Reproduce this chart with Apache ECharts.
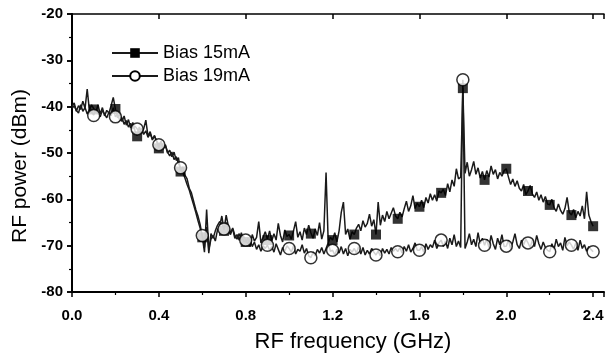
<!DOCTYPE html>
<html>
<head>
<meta charset="utf-8">
<script src="https://cdn.jsdelivr.net/npm/echarts@6/dist/echarts.min.js"></script>
<style>
  html, body { margin: 0; padding: 0; background: #fff; }
  #chart { width: 614px; height: 358px; }
</style>
</head>
<body>
<div id="chart"></div>
<script>
// spectrum traces, one sample every 0.01 GHz from 0.00 to 2.40 (dBm)
var traceStep = 0.01;
var trace15 = [
  -40.0, -39.2, -41.0, -39.8, -40.6, -38.8, -40.4, -36.2, -40.8, -39.6,
  -40.4, -41.2, -39.6, -41.6, -40.2, -42.0, -40.8, -41.4, -39.8, -38.0,
  -40.6, -42.4, -41.6, -43.2, -42.0, -44.0, -42.8, -44.6, -43.4, -45.2,
  -46.2, -44.4, -45.8, -44.8, -42.9, -46.4, -45.4, -47.2, -46.2, -47.6,
  -48.8, -47.4, -49.2, -48.2, -50.0, -49.4, -50.8, -49.8, -51.6, -51.0,
  -53.8, -53.0, -54.8, -55.6, -57.6, -58.6, -60.4, -62.2, -63.6, -65.4,
  -68.0, -71.4, -62.2, -70.8, -68.6, -67.8, -69.0, -66.6, -65.8, -63.6,
  -66.6, -63.4, -65.8, -67.2, -66.4, -68.4, -67.6, -68.8, -67.2, -69.0,
  -69.2, -68.4, -70.2, -67.6, -69.0, -68.2, -64.8, -69.4, -68.2, -67.0,
  -68.6, -66.8, -69.0, -67.4, -68.8, -65.2, -67.8, -69.2, -66.6, -68.0,
  -67.6, -68.6, -66.8, -64.8, -68.2, -67.0, -68.8, -66.2, -67.6, -65.6,
  -67.2, -68.4, -66.4, -67.8, -65.0, -68.6, -66.8, -54.2, -69.4, -68.2,
  -68.8, -67.2, -69.2, -66.8, -62.8, -60.6, -67.6, -66.4, -68.6, -67.0,
  -67.6, -66.2, -65.4, -66.8, -64.6, -66.0, -65.2, -63.2, -65.8, -64.4,
  -67.6, -60.6, -65.6, -63.4, -64.8, -62.6, -64.2, -63.0, -61.8, -63.6,
  -64.2, -62.8, -63.8, -62.0, -60.4, -62.6, -61.4, -59.2, -62.0, -60.8,
  -61.6, -60.2, -61.8, -59.6, -60.8, -58.8, -60.2, -59.0, -60.4, -58.2,
  -58.6, -57.8, -59.2, -56.6, -58.4, -55.8, -57.2, -53.4, -55.6, -55.2,
  -36.0, -54.4, -52.0, -55.0, -53.6, -51.8, -54.6, -53.2, -55.4, -54.0,
  -55.8, -53.8, -55.2, -52.8, -54.6, -53.6, -55.6, -54.2, -55.0, -53.8,
  -53.4, -55.2, -56.8, -55.6, -57.2, -56.0, -57.6, -58.2, -56.8, -59.0,
  -58.2, -57.0, -58.8, -59.6, -58.4, -60.2, -59.0, -60.6, -59.4, -61.0,
  -61.2, -60.0, -61.8, -62.6, -61.0, -62.4, -63.2, -62.0, -59.6, -62.8,
  -63.4, -62.2, -64.0, -62.6, -63.6, -61.4, -64.2, -58.4, -63.4, -64.8,
  -65.8
];
var trace19 = [
  -40.4, -39.8, -40.8, -41.4, -39.6, -41.0, -40.2, -41.6, -40.6, -41.2,
  -41.8, -40.6, -41.4, -42.2, -40.8, -41.6, -42.4, -41.2, -42.0, -40.2,
  -42.2, -41.6, -43.0, -42.4, -43.8, -43.0, -44.4, -43.6, -44.8, -44.2,
  -44.8, -45.6, -44.6, -46.0, -45.2, -46.6, -45.8, -47.0, -46.4, -47.4,
  -48.2, -47.6, -49.0, -48.4, -49.8, -50.6, -49.8, -51.4, -50.8, -52.2,
  -53.2, -54.2, -55.4, -56.8, -58.0, -59.6, -61.2, -62.8, -64.6, -66.2,
  -67.8, -70.4, -66.0, -71.6, -67.4, -68.4, -66.8, -65.6, -64.8, -65.2,
  -66.4, -65.0, -66.8, -67.6, -66.2, -67.8, -68.6, -67.4, -68.8, -68.0,
  -68.8, -69.6, -68.6, -70.2, -69.2, -70.8, -69.8, -71.2, -70.0, -70.6,
  -69.9, -71.0, -70.2, -71.4, -69.6, -70.8, -72.0, -70.4, -71.2, -70.0,
  -70.6, -71.4, -70.0, -71.8, -70.8, -71.2, -69.8, -71.6, -70.6, -72.2,
  -72.6, -71.4, -72.2, -70.8, -71.6, -70.4, -71.8, -70.6, -69.4, -71.2,
  -71.0, -72.0, -70.8, -71.6, -70.2, -71.8, -70.6, -72.2, -70.8, -71.4,
  -70.6, -71.6, -70.2, -71.8, -70.4, -72.0, -71.0, -71.8, -70.6, -71.4,
  -72.0, -71.2, -72.2, -70.6, -71.6, -70.8, -71.8, -70.4, -71.2, -70.6,
  -71.3, -70.4, -71.6, -70.2, -71.2, -69.8, -71.4, -70.6, -69.4, -71.0,
  -71.0, -70.2, -71.4, -69.6, -70.8, -69.8, -70.4, -68.8, -70.6, -69.4,
  -68.8, -70.2, -69.0, -70.6, -68.4, -69.8, -67.6, -70.2, -69.0, -70.4,
  -34.2, -70.6, -69.2, -67.4, -69.8, -68.6, -70.2, -67.2, -69.6, -68.4,
  -69.9, -68.6, -70.4, -67.8, -69.6, -70.8, -68.4, -69.8, -67.6, -70.2,
  -70.1, -68.8, -70.6, -69.2, -67.4, -69.8, -70.6, -68.8, -69.8, -68.6,
  -69.4, -70.4, -68.8, -70.2, -67.8, -69.6, -70.8, -69.2, -70.4, -71.0,
  -71.3, -69.6, -70.8, -68.6, -70.2, -69.4, -71.0, -68.2, -70.0, -69.2,
  -69.9, -70.8, -69.4, -71.0, -68.8, -70.6, -69.8, -71.2, -70.2, -70.8,
  -71.3
];

// symbol positions (GHz) and their levels
var markerFreq = [0.1, 0.2, 0.3, 0.4, 0.5, 0.6, 0.7, 0.8, 0.9, 1.0, 1.1, 1.2,
                  1.3, 1.4, 1.5, 1.6, 1.7, 1.8, 1.9, 2.0, 2.1, 2.2, 2.3, 2.4];
var marker15 = [-40.6, -40.5, -46.4, -49.0, -54.0, -68.2, -66.8, -69.2, -68.8, -67.8, -67.4, -68.8,
                -67.6, -67.6, -64.2, -61.6, -58.6, -36.0, -55.8, -53.4, -58.2, -61.2, -63.4, -65.8];
var marker19 = [-41.9, -42.2, -44.8, -48.2, -53.2, -67.8, -66.4, -68.8, -69.9, -70.6, -72.6, -71.0,
                -70.6, -72.0, -71.3, -71.0, -68.8, -34.2, -69.9, -70.1, -69.4, -71.3, -69.9, -71.3];

var seriesNames = ['Bias 15mA', 'Bias 19mA'];

function pairs(vals) {
    return vals.map(function (v, i) { return [+(i * traceStep).toFixed(2), v]; });
}
function markerPairs(vals) {
    return vals.map(function (v, i) { return [markerFreq[i], v]; });
}

var font = 'Liberation Sans';
var chart = echarts.init(document.getElementById('chart'));

var tickLbl = { fontFamily: font, fontSize: 15, fontWeight: 'bold', color: '#000' };

var option = {
    animation: false,
    backgroundColor: '#fff',
    grid: { left: 72, right: 10, top: 14, bottom: 58 },
    legend: {
        data: seriesNames,
        orient: 'vertical',
        left: 106,
        top: 39,
        itemWidth: 46,
        itemHeight: 12,
        itemGap: 5,
        textStyle: { fontFamily: font, fontSize: 18, color: '#000' }
    },
    xAxis: [{
        type: 'value',
        min: 0, max: 2.45, interval: 0.4,
        name: 'RF frequency (GHz)',
        nameLocation: 'middle',
        nameGap: 39,
        nameTextStyle: { fontFamily: font, fontSize: 22, color: '#000', padding: [0, 0, 0, 30] },
        axisLine: { lineStyle: { color: '#000', width: 2 } },
        axisTick: { inside: false, length: 5, lineStyle: { width: 1.5 } },
        minorTick: { show: true, splitNumber: 2, length: 3, lineStyle: { color: '#000', width: 1.2 } },
        axisLabel: Object.assign({ margin: 16, showMaxLabel: false,
            formatter: function (v) { return v.toFixed(1); } }, tickLbl),
        splitLine: { show: false }
    }, {
        type: 'value',
        position: 'top',
        min: 0, max: 2.45, interval: 0.4,
        axisLine: { lineStyle: { color: '#000', width: 1.5 } },
        axisTick: { inside: true, length: 5, lineStyle: { width: 1.5 } },
        axisLabel: { show: false },
        splitLine: { show: false }
    }],
    yAxis: [{
        type: 'value',
        min: -80, max: -20, interval: 10,
        name: 'RF power (dBm)',
        nameLocation: 'middle',
        nameGap: 35,
        nameTextStyle: { fontFamily: font, fontSize: 21, color: '#000', padding: [0, 26, 0, 0] },
        axisLine: { lineStyle: { color: '#000', width: 2 } },
        axisTick: { inside: false, length: 5, lineStyle: { width: 1.5 } },
        minorTick: { show: true, splitNumber: 2, length: 3, lineStyle: { color: '#000', width: 1.2 } },
        axisLabel: Object.assign({ margin: 9 }, tickLbl),
        splitLine: { show: false }
    }, {
        type: 'value',
        position: 'right',
        min: -80, max: -20, interval: 10,
        axisLine: { lineStyle: { color: '#000', width: 1.5 } },
        axisTick: { inside: true, length: 5, lineStyle: { width: 1.5 } },
        axisLabel: { show: false },
        splitLine: { show: false }
    }],
    series: [{
        name: seriesNames[0],
        type: 'line',
        data: pairs(trace15),
        showSymbol: false,
        symbol: 'rect',
        symbolSize: 10,
        itemStyle: { color: '#000' },
        lineStyle: { color: '#1a1a1a', width: 1.5 },
        z: 2
    }, {
        name: seriesNames[1],
        type: 'line',
        data: pairs(trace19),
        showSymbol: false,
        symbol: 'circle',
        symbolSize: 12,
        itemStyle: { color: '#fff', borderColor: '#000', borderWidth: 1.5 },
        lineStyle: { color: '#1a1a1a', width: 1.5 },
        z: 2
    }, {
        name: 'marks15',
        type: 'scatter',
        data: markerPairs(marker15),
        symbol: 'rect',
        symbolSize: 10,
        itemStyle: { color: '#000' },
        z: 3
    }, {
        name: 'marks19',
        type: 'scatter',
        data: markerPairs(marker19),
        symbol: 'circle',
        symbolSize: 12,
        itemStyle: { color: '#fff', borderColor: '#000', borderWidth: 1.5 },
        z: 4
    }]
};

chart.setOption(option);
window.addEventListener('resize', function () { chart.resize(); });
</script>
</body>
</html>
